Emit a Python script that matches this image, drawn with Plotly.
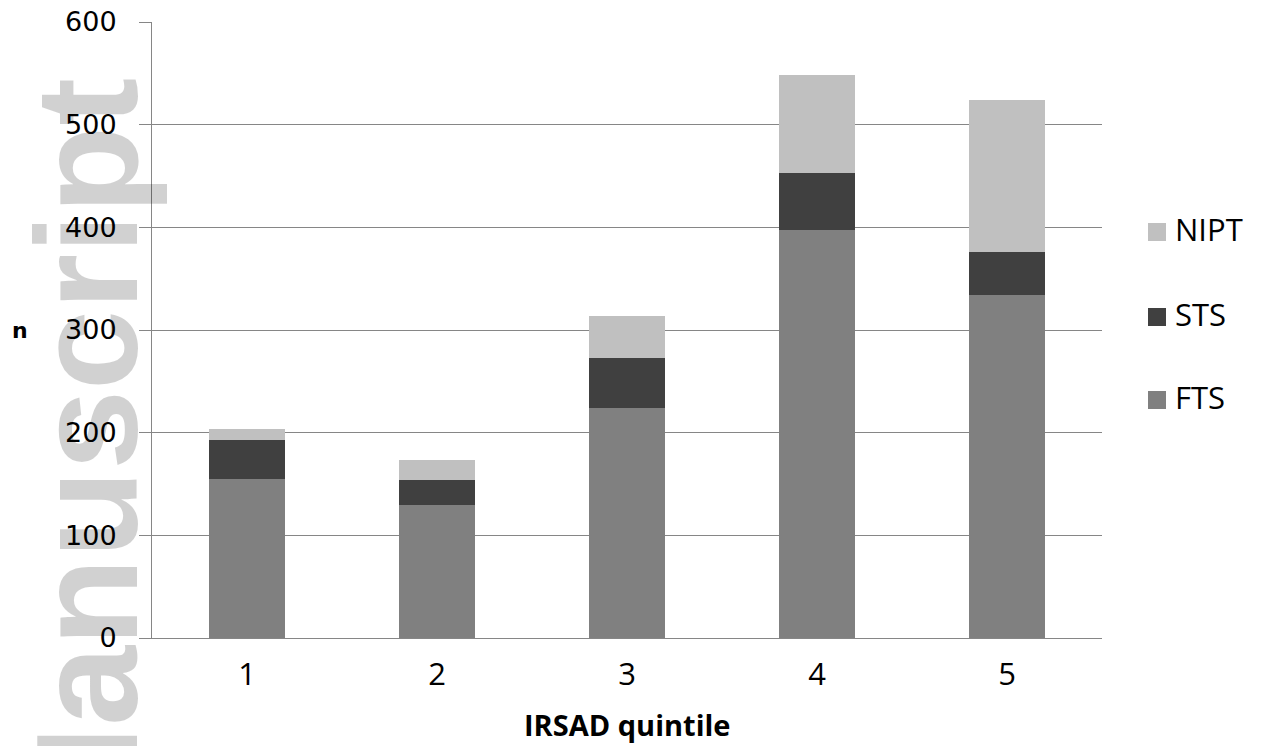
import plotly.graph_objects as go

quintiles = ["1", "2", "3", "4", "5"]
fts = [155, 130, 224, 397, 334]
sts = [38, 24, 49, 56, 42]
nipt = [11, 19, 41, 95, 148]
series_names = ["FTS", "STS", "NIPT"]
series_colors = ["#808080", "#404040", "#c0c0c0"]
y_ticks = [0, 100, 200, 300, 400, 500, 600]

W, H = 1264, 746
L, R, T, B = 152, 162, 22, 108
PW, PH = W - L - R, H - T - B


def px(x):
    return (x - L) / PW


def py(y):
    return (H - B - y) / PH


fig = go.Figure()
for name, vals, col in zip(series_names, [fts, sts, nipt], series_colors):
    fig.add_trace(go.Bar(x=quintiles, y=vals, name=name, marker=dict(color=col, line=dict(width=0)),
                         showlegend=False))

label_font = "Open Sans, sans-serif"

# manual legend
legend_y = [232, 317, 400]
for name, col, ly in zip(["NIPT", "STS", "FTS"], ["#c0c0c0", "#404040", "#808080"], legend_y):
    fig.add_shape(type="rect", xref="paper", yref="paper",
                  x0=px(1148), x1=px(1166), y0=py(ly - 9), y1=py(ly + 9),
                  fillcolor=col, line=dict(width=0))
    fig.add_annotation(text=name, xref="paper", yref="paper", x=px(1173), y=py(ly - 3),
                       xanchor="left", yanchor="middle", showarrow=False,
                       font=dict(family=label_font, size=31, color="#000"))

# watermark
fig.add_annotation(text="Manuscript", xref="paper", yref="paper", x=px(87), y=py(76),
                   xanchor="center", yanchor="top", textangle=-90, showarrow=False,
                   font=dict(family="Liberation Sans", size=144, weight="bold",
                             color="rgba(0,0,0,0.18)"))

# axis titles
fig.add_annotation(text="<b>n</b>", xref="paper", yref="paper", x=px(20), y=py(330),
                   xanchor="center", yanchor="middle", showarrow=False,
                   font=dict(family="DejaVu Sans", size=22, color="#000"))
fig.add_annotation(text="<b>IRSAD quintile</b>", xref="paper", yref="paper", x=0.5, y=py(724),
                   xanchor="center", yanchor="middle", showarrow=False,
                   font=dict(family=label_font, size=29, color="#000"))

fig.update_layout(
    width=W, height=H,
    margin=dict(l=L, r=R, t=T, b=B, pad=0, autoexpand=False),
    barmode="stack", bargap=0.6,
    plot_bgcolor="white", paper_bgcolor="white",
    xaxis=dict(type="category", showline=True, linecolor="#868686", linewidth=1,
               showgrid=False, ticks="", ticklabelstandoff=9, automargin=False,
               tickfont=dict(family=label_font, size=31, color="#000")),
    yaxis=dict(range=[0, 600], tickvals=y_ticks, showline=True, linecolor="#868686", linewidth=1,
               showgrid=True, gridcolor="#868686", gridwidth=1, ticks="outside", ticklen=12,
               tickcolor="#868686", ticklabelstandoff=17, zeroline=False, automargin=False,
               tickfont=dict(family="DejaVu Sans", size=27, color="#000")),
)

fig.write_html("out.html")
